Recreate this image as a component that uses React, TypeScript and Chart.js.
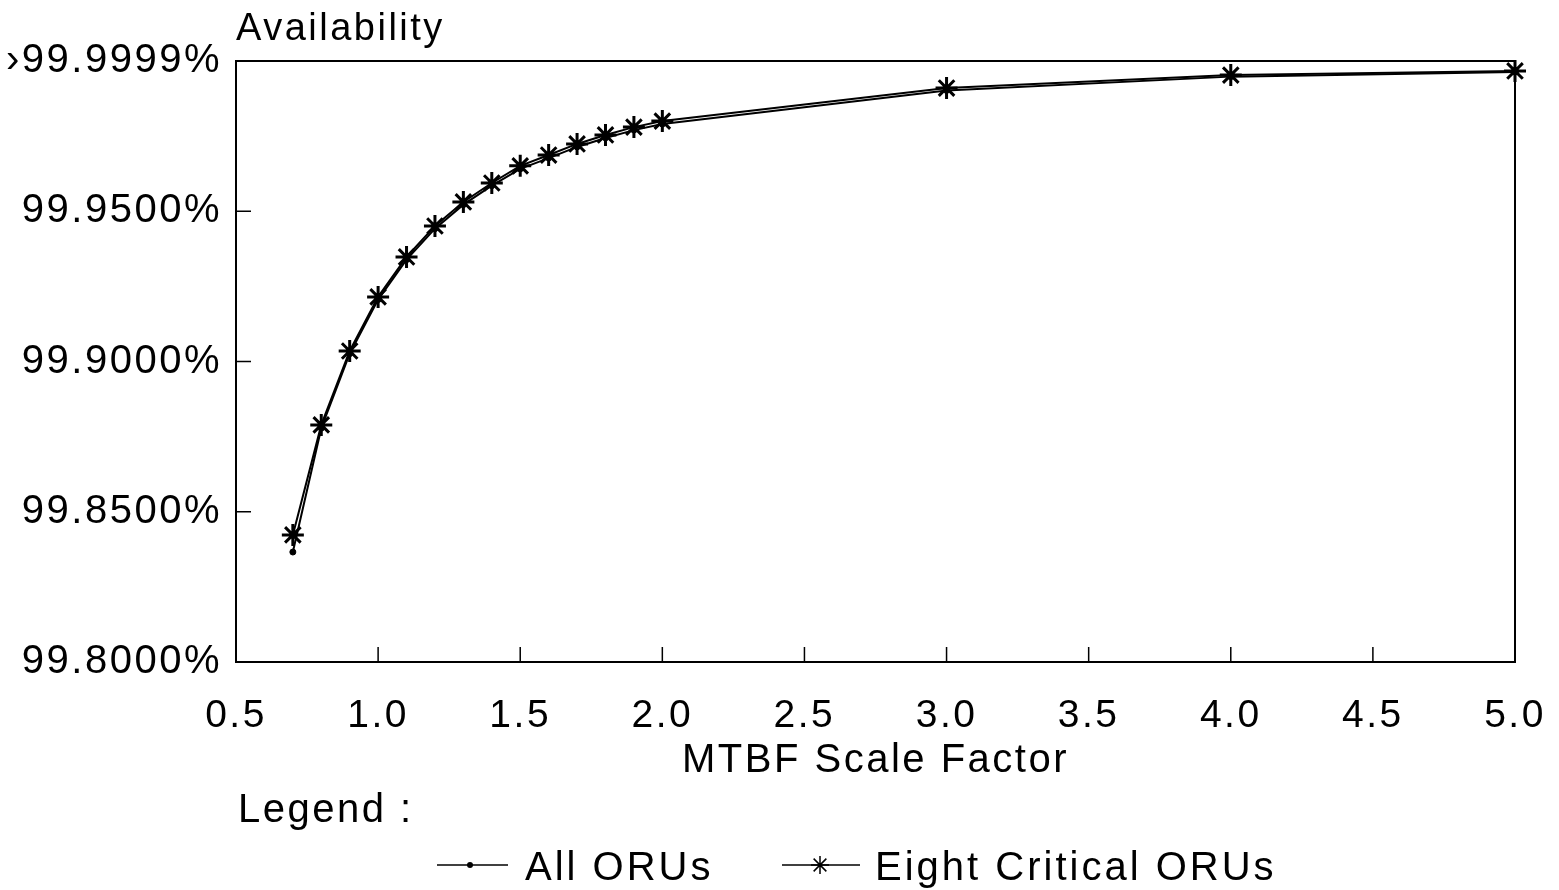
import React, { useEffect, useRef } from "react";
import { Chart, registerables } from "chart.js";

Chart.register(...registerables);

const mtbfScale = [0.7, 0.8, 0.9, 1.0, 1.1, 1.2, 1.3, 1.4, 1.5, 1.6, 1.7, 1.8, 1.9, 2.0, 3.0, 4.0, 5.0];
const eightCritical = [99.8423, 99.8789, 99.9035, 99.9215, 99.9348, 99.9451, 99.9531, 99.9594, 99.9651, 99.9687, 99.9724, 99.9754, 99.978, 99.98, 99.991, 99.9953, 99.9967];
const allORUs = [99.8366, 99.8778, 99.9026, 99.9206, 99.9339, 99.9442, 99.9522, 99.9585, 99.9641, 99.9677, 99.9714, 99.9744, 99.977, 99.979, 99.9902, 99.9948, 99.9963];

const xTickValues = [0.5, 1.0, 1.5, 2.0, 2.5, 3.0, 3.5, 4.0, 4.5, 5.0];
const yTickValues = [99.8, 99.85, 99.9, 99.95, 100.0];
const yTickLabels = ["99.8000%", "99.8500%", "99.9000%", "99.9500%", "\u203A99.9999%"];

const yTitle = "Availability";
const xTitle = "MTBF Scale Factor";
const legendTitle = "Legend :";
const seriesNames = ["All ORUs", "Eight Critical ORUs"];

const FONT = '"Liberation Sans", Arial, Helvetica, sans-serif';
const SPACING = "2.5px";

const spacingPlugin = {
  id: "letterSpacing",
  beforeUpdate(chart: any) {
    chart.ctx.letterSpacing = SPACING;
  },
  beforeLayout(chart: any) {
    chart.ctx.letterSpacing = SPACING;
  },
  beforeDraw(chart: any) {
    chart.ctx.letterSpacing = SPACING;
  },
};

function drawStar(ctx: CanvasRenderingContext2D, x: number, y: number, r: number) {
  ctx.beginPath();
  for (let i = 0; i < 4; i++) {
    const a = (i * Math.PI) / 4;
    ctx.moveTo(x - r * Math.sin(a), y - r * Math.cos(a));
    ctx.lineTo(x + r * Math.sin(a), y + r * Math.cos(a));
  }
  ctx.stroke();
}

const decorPlugin = {
  id: "decor",
  afterDraw(chart: any) {
    const ctx: CanvasRenderingContext2D = chart.ctx;
    const { left, right, top, bottom } = chart.chartArea;
    const xs = chart.scales.x;
    const ys = chart.scales.y;
    ctx.save();
    ctx.strokeStyle = "#000";
    ctx.fillStyle = "#000";
    ctx.lineWidth = 2;
    // box
    ctx.beginPath();
    ctx.moveTo(left, top);
    ctx.lineTo(right, top);
    ctx.lineTo(right, bottom);
    ctx.stroke();
    // inward ticks
    ctx.lineWidth = 1.5;
    ctx.beginPath();
    yTickValues.forEach((v) => {
      const py = ys.getPixelForValue(v);
      ctx.moveTo(left, py);
      ctx.lineTo(left + 15, py);
    });
    xTickValues.forEach((v) => {
      const px = xs.getPixelForValue(v);
      ctx.moveTo(px, bottom);
      ctx.lineTo(px, bottom - 15);
    });
    ctx.stroke();

    ctx.letterSpacing = SPACING;
    ctx.font = `38px ${FONT}`;
    ctx.textBaseline = "alphabetic";
    ctx.textAlign = "left";
    ctx.fillText(yTitle, 236, 40);
    ctx.font = `40px ${FONT}`;
    ctx.fillText(legendTitle, 238, 822);

    // legend items
    const ly = 865;
    ctx.lineWidth = 1.5;
    ctx.beginPath();
    ctx.moveTo(437, ly);
    ctx.lineTo(508, ly);
    ctx.stroke();
    ctx.beginPath();
    ctx.arc(470, ly, 3, 0, Math.PI * 2);
    ctx.fill();
    ctx.letterSpacing = "3px";
    ctx.fillText(seriesNames[0], 525, 880);

    ctx.beginPath();
    ctx.moveTo(782, ly);
    ctx.lineTo(860, ly);
    ctx.stroke();
    drawStar(ctx, 820, ly, 9);
    ctx.fillText(seriesNames[1], 875, 880);
    ctx.restore();
  },
};

export default function App() {
  const canvasRef = useRef<HTMLCanvasElement | null>(null);

  useEffect(() => {
    document.body.style.margin = "0";
    const canvas = canvasRef.current;
    if (!canvas) return;
    const chart = new Chart(canvas, {
      type: "line",
      data: {
        datasets: [
          {
            label: seriesNames[1],
            data: mtbfScale.map((x, i) => ({ x, y: eightCritical[i] })),
            borderColor: "#000",
            backgroundColor: "#000",
            borderWidth: 2,
            pointStyle: "star",
            pointRadius: 11,
            pointBorderWidth: 3,
            pointBorderColor: "#000",
            clip: false as any,
          },
          {
            label: seriesNames[0],
            data: mtbfScale.map((x, i) => ({ x, y: allORUs[i] })),
            borderColor: "#000",
            backgroundColor: "#000",
            borderWidth: 2,
            pointStyle: "circle",
            pointRadius: 3,
            pointBorderWidth: 1,
            clip: false as any,
          },
        ],
      },
      options: {
        responsive: false,
        animation: false,
        events: [],
        layout: { padding: { left: 0, right: 44, top: 61, bottom: 0 } },
        plugins: {
          legend: { display: false },
          title: { display: false },
          tooltip: { enabled: false },
        },
        scales: {
          x: {
            type: "linear",
            min: 0.5,
            max: 5.0,
            afterBuildTicks: (scale: any) => {
              scale.ticks = xTickValues.map((v) => ({ value: v }));
            },
            afterFit: (scale: any) => {
              scale.height = 228;
              scale.paddingLeft = 0;
              scale.paddingRight = 0;
            },
            grid: { display: true, drawOnChartArea: false, drawTicks: false },
            border: { display: true, color: "#000", width: 2 },
            ticks: {
              color: "#000",
              font: { family: FONT, size: 39 },
              padding: 31,
              maxRotation: 0,
              autoSkip: false,
              callback: (v: any) => Number(v).toFixed(1),
            },
            title: {
              display: true,
              text: xTitle,
              color: "#000",
              font: { family: FONT, size: 40 },
              padding: { top: 0, bottom: 105 },
            },
          },
          y: {
            type: "linear",
            min: 99.8,
            max: 100.0,
            afterBuildTicks: (scale: any) => {
              scale.ticks = yTickValues.map((v) => ({ value: v }));
            },
            afterFit: (scale: any) => {
              scale.width = 236;
              scale.paddingTop = 0;
              scale.paddingBottom = 0;
            },
            grid: { display: true, drawOnChartArea: false, drawTicks: false },
            border: { display: true, color: "#000", width: 2 },
            ticks: {
              color: "#000",
              font: { family: FONT, size: 40 },
              padding: 14,
              autoSkip: false,
              callback: (v: any) => {
                const i = yTickValues.findIndex((t) => Math.abs(t - Number(v)) < 1e-6);
                return i >= 0 ? yTickLabels[i] : "";
              },
            },
          },
        },
      },
      plugins: [spacingPlugin, decorPlugin],
    } as any);
    return () => chart.destroy();
  }, []);

  return (
    <div style={{ position: "absolute", left: 0, top: 0, width: 1559, height: 890, background: "#fff" }}>
      <canvas ref={canvasRef} width={1559} height={890} style={{ width: 1559, height: 890 }} />
    </div>
  );
}
